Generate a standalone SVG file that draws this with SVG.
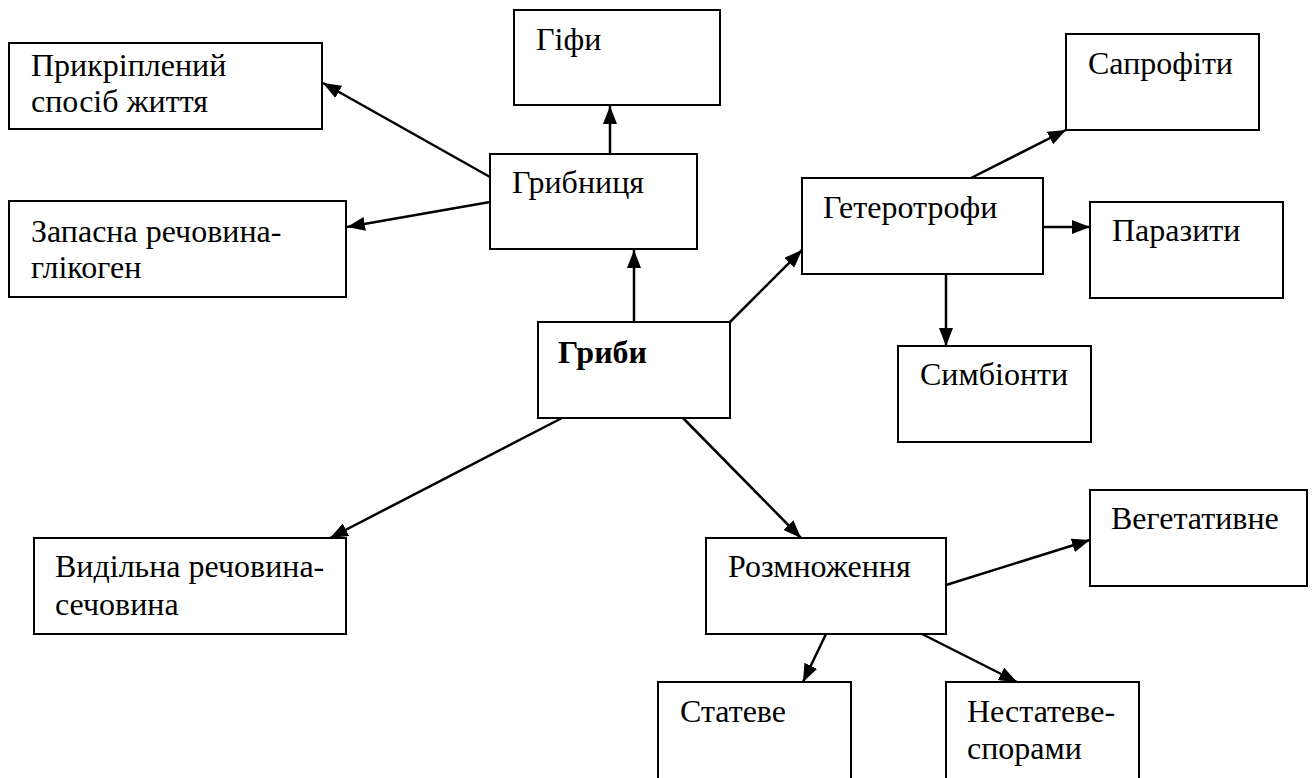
<svg xmlns="http://www.w3.org/2000/svg" width="1315" height="778" viewBox="0 0 1315 778">
<style>
.box{fill:#fff;stroke:#000;stroke-width:2}
.c{stroke:#000;stroke-width:2.5;fill:none;marker-end:url(#ah)}
</style>
<defs>
<marker id="ah" markerUnits="userSpaceOnUse" markerWidth="18" markerHeight="14" refX="18" refY="7" orient="auto">
<path d="M0,0 L18,7 L0,14 z" fill="#000"/>
</marker>
</defs>
<rect width="1315" height="778" fill="#fff"/>
<g font-family="'Liberation Serif', 'Times New Roman', serif" font-size="32" fill="#000">
<g id="n-prykriplenyi"><rect class="box" x="9" y="43" width="313" height="86"/><text x="31" y="76">Прикріплений</text><text x="31" y="112">спосіб життя</text></g>
<g id="n-hify"><rect class="box" x="514" y="10" width="206" height="95"/><text x="536" y="50">Гіфи</text></g>
<g id="n-hrybnytsia"><rect class="box" x="490" y="154" width="207" height="95"/><text x="512" y="193">Грибниця</text></g>
<g id="n-zapasna"><rect class="box" x="9" y="201" width="337" height="96"/><text x="31" y="242">Запасна речовина-</text><text x="31" y="278">глікоген</text></g>
<g id="n-hryby"><rect class="box" x="538" y="322" width="192" height="96"/><text x="558" y="363" font-weight="bold">Гриби</text></g>
<g id="n-heterotrofy"><rect class="box" x="802" y="178" width="241" height="96"/><text x="823" y="218">Гетеротрофи</text></g>
<g id="n-saprofity"><rect class="box" x="1066" y="34" width="193" height="96"/><text x="1088" y="74">Сапрофіти</text></g>
<g id="n-parazyty"><rect class="box" x="1090" y="202" width="193" height="96"/><text x="1112" y="241">Паразити</text></g>
<g id="n-symbionty"><rect class="box" x="898" y="346" width="193" height="96"/><text x="920" y="385">Симбіонти</text></g>
<g id="n-vydilna"><rect class="box" x="34" y="538" width="312" height="96"/><text x="55" y="577">Видільна речовина-</text><text x="55" y="615">сечовина</text></g>
<g id="n-rozmnozhennia"><rect class="box" x="706" y="538" width="240" height="96"/><text x="728" y="577">Розмноження</text></g>
<g id="n-vehetatyvne"><rect class="box" x="1090" y="490" width="217" height="96"/><text x="1111" y="529">Вегетативне</text></g>
<g id="n-stateve"><rect class="box" x="658" y="682" width="193" height="110"/><text x="680" y="722">Статеве</text></g>
<g id="n-nestateve"><rect class="box" x="946" y="682" width="193" height="110"/><text x="967" y="722">Нестатеве-</text><text x="967" y="759">спорами</text></g>
</g>
<g id="connectors">
<line class="c" x1="490" y1="177" x2="323" y2="83"/>
<line class="c" x1="490" y1="202" x2="347" y2="227"/>
<line class="c" x1="610" y1="154" x2="610" y2="106"/>
<line class="c" x1="634" y1="322" x2="634" y2="250"/>
<line class="c" x1="730" y1="322" x2="802" y2="250"/>
<line class="c" x1="971" y1="178" x2="1066" y2="130"/>
<line class="c" x1="1043" y1="227" x2="1090" y2="227"/>
<line class="c" x1="946" y1="274" x2="946" y2="346"/>
<line class="c" x1="562" y1="418" x2="330" y2="538"/>
<line class="c" x1="683" y1="418" x2="801" y2="538"/>
<line class="c" x1="946" y1="585" x2="1090" y2="540"/>
<line class="c" x1="826" y1="634" x2="803" y2="682"/>
<line class="c" x1="922" y1="634" x2="1017" y2="682"/>
</g>
</svg>
